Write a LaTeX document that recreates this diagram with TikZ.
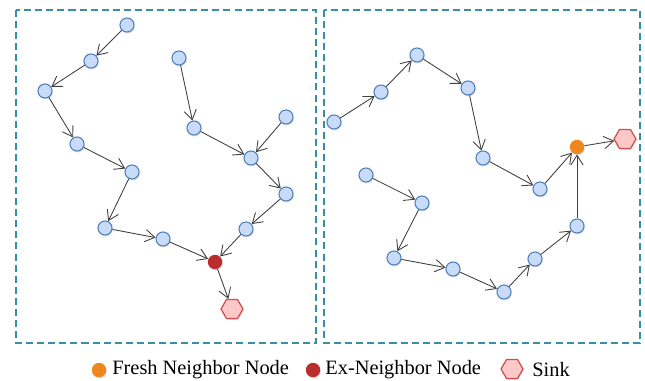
\documentclass[tikz,border=0pt]{standalone}
\usepackage{fontspec}
\setmainfont{Liberation Serif}
\usetikzlibrary{arrows.meta,shapes.geometric,shadows}

\definecolor{boxteal}{RGB}{58,142,164}
\definecolor{sensorfill}{RGB}{200,219,248}
\definecolor{sensoredge}{RGB}{79,129,189}
\definecolor{exred}{RGB}{185,45,45}
\definecolor{freshorange}{RGB}{238,135,30}
\definecolor{sinkfill}{RGB}{255,200,200}
\definecolor{sinkedge}{RGB}{205,80,80}

\tikzset{
  sensor/.style={circle,draw=sensoredge,fill=sensorfill,line width=0.6pt,
    minimum size=8pt,inner sep=0pt,
    drop shadow={shadow xshift=0.4pt,shadow yshift=-0.8pt,opacity=0.25}},
  exnode/.style={circle,fill=exred,minimum size=8.2pt,inner sep=0pt,
    drop shadow={shadow xshift=0.4pt,shadow yshift=-0.8pt,opacity=0.25}},
  freshnode/.style={circle,fill=freshorange,minimum size=8.2pt,inner sep=0pt,
    drop shadow={shadow xshift=0.4pt,shadow yshift=-0.8pt,opacity=0.25}},
  sink/.style={regular polygon,regular polygon sides=6,
    draw=sinkedge,fill=sinkfill,line width=0.7pt,minimum size=12.5pt,inner sep=0pt,
    drop shadow={shadow xshift=0.4pt,shadow yshift=-0.8pt,opacity=0.25}},
  hop/.style={->,draw=black!75,line width=0.5pt},
  area/.style={draw=boxteal,line width=0.85pt,dash pattern=on 4pt off 2.3pt},
  legendtext/.style={anchor=west,inner sep=0pt,font=\fontsize{11.6}{13}\selectfont}
}

\begin{document}
\begin{tikzpicture}[x=0.02cm,y=-0.02cm,>={Straight Barb[length=5.5pt,width=7pt]}]
	\useasboundingbox (0,0) rectangle (645,381);

	% the two areas
	\draw[area] (16,10) rectangle (316,343);
	\draw[area] (324,10) rectangle (640,343);

	% left area
	\node[sensor] (a1) at (127,25) {};
	\node[sensor] (a2) at (91,61) {};
	\node[sensor] (a3) at (45,91) {};
	\node[sensor] (a4) at (77,144) {};
	\node[sensor] (a5) at (132,172) {};
	\node[sensor] (a6) at (105,228) {};
	\node[sensor] (a7) at (163,239) {};
	\node[sensor] (b1) at (179,58) {};
	\node[sensor] (b2) at (194,128) {};
	\node[sensor] (b3) at (251,158) {};
	\node[sensor] (b4) at (286,117) {};
	\node[sensor] (b5) at (286,194) {};
	\node[sensor] (b6) at (246,229) {};
	\node[exnode] (ex) at (215,262) {};
	\node[sink] (sinkl) at (232,309) {};

	\draw[hop] (a1) -- (a2);
	\draw[hop] (a2) -- (a3);
	\draw[hop] (a3) -- (a4);
	\draw[hop] (a4) -- (a5);
	\draw[hop] (a5) -- (a6);
	\draw[hop] (a6) -- (a7);
	\draw[hop] (a7) -- (ex);
	\draw[hop] (b1) -- (b2);
	\draw[hop] (b2) -- (b3);
	\draw[hop] (b4) -- (b3);
	\draw[hop] (b3) -- (b5);
	\draw[hop] (b5) -- (b6);
	\draw[hop] (b6) -- (ex);
	\draw[hop] (ex) -- (sinkl);

	% right area
	\node[sensor] (c1) at (334,122) {};
	\node[sensor] (c2) at (381,92) {};
	\node[sensor] (c3) at (417,55) {};
	\node[sensor] (c4) at (468,88) {};
	\node[sensor] (c5) at (483,158) {};
	\node[sensor] (c6) at (540,189) {};
	\node[sensor] (d1) at (366,175) {};
	\node[sensor] (d2) at (422,203) {};
	\node[sensor] (d3) at (394,258) {};
	\node[sensor] (d4) at (453,269) {};
	\node[sensor] (d5) at (504,292) {};
	\node[sensor] (d6) at (535,259) {};
	\node[sensor] (d7) at (577,226) {};
	\node[freshnode] (fresh) at (577,147) {};
	\node[sink] (sinkr) at (625,139) {};

	\draw[hop] (c1) -- (c2);
	\draw[hop] (c2) -- (c3);
	\draw[hop] (c3) -- (c4);
	\draw[hop] (c4) -- (c5);
	\draw[hop] (c5) -- (c6);
	\draw[hop] (c6) -- (fresh);
	\draw[hop] (d1) -- (d2);
	\draw[hop] (d2) -- (d3);
	\draw[hop] (d3) -- (d4);
	\draw[hop] (d4) -- (d5);
	\draw[hop] (d5) -- (d6);
	\draw[hop] (d6) -- (d7);
	\draw[hop] (d7) -- (fresh);
	\draw[hop] (fresh) -- (sinkr);

	% legend
	\node[freshnode] (keyfresh) at (99,370) {};
	\node[legendtext] (txtfresh) at (112,370) {Fresh Neighbor Node};
	\node[exnode] (keyex) at (313,370) {};
	\node[legendtext] (txtex) at (325,370) {Ex-Neighbor Node};
	\node[sink] (keysink) at (512,369) {};
	\node[legendtext] (txtsink) at (532,370) {Sink};

\end{tikzpicture}
\end{document}
